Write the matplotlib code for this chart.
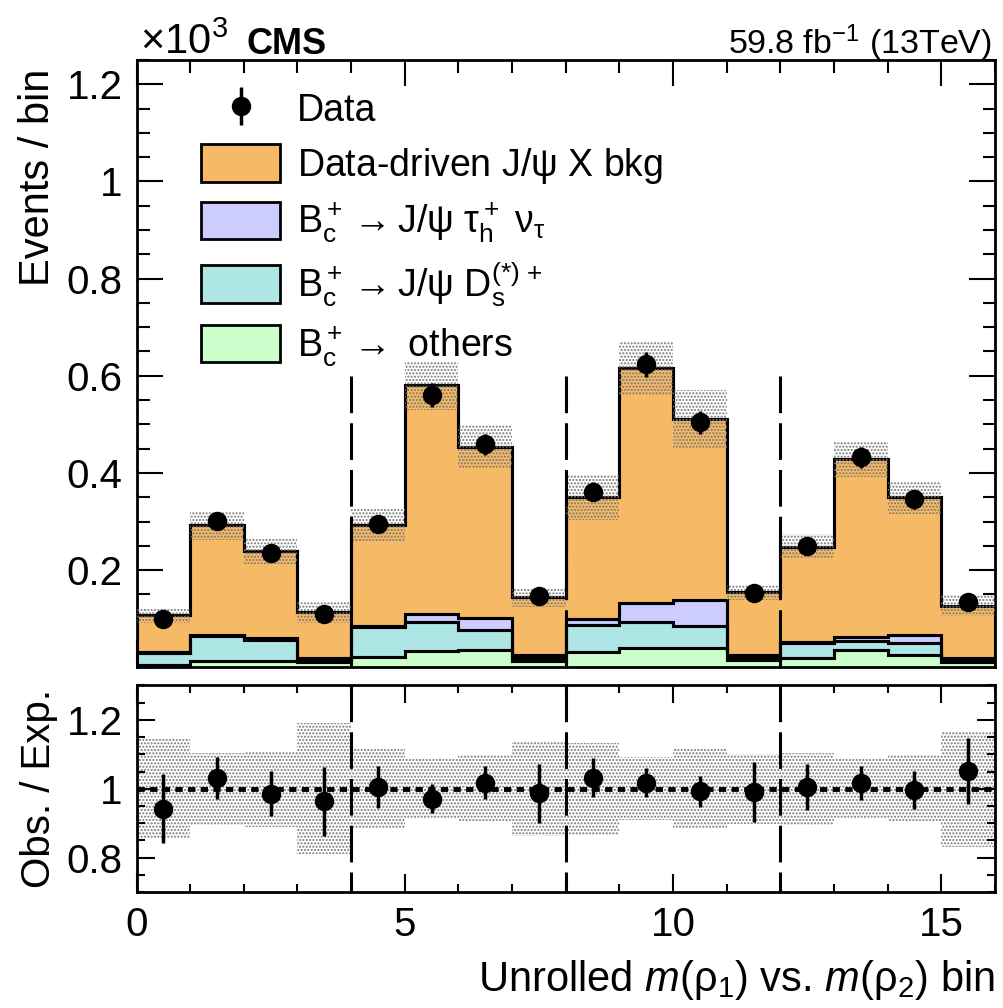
import numpy as np
import matplotlib
matplotlib.use('Agg')
import matplotlib.pyplot as plt
from matplotlib.patches import Patch
from matplotlib.ticker import MultipleLocator

plt.rcParams['font.family'] = ['Liberation Sans', 'DejaVu Sans']
plt.rcParams['mathtext.fontset'] = 'custom'
plt.rcParams['mathtext.rm'] = 'Liberation Sans'
plt.rcParams['mathtext.it'] = 'Liberation Sans:italic'
plt.rcParams['mathtext.bf'] = 'Liberation Sans:bold'
plt.rcParams['hatch.linewidth'] = 1.0

# values in units of 10^3 events per bin
edges = np.arange(0, 17)
bkg_jpsix = [0.075, 0.225, 0.180, 0.093, 0.206, 0.471, 0.352, 0.119,
             0.250, 0.484, 0.373, 0.129, 0.196, 0.366, 0.284, 0.108]
sig_tau = [0.002, 0.003, 0.004, 0.004, 0.003, 0.016, 0.025, 0.005,
           0.012, 0.039, 0.054, 0.005, 0.003, 0.007, 0.015, 0.004]
bc_ds = [0.026, 0.052, 0.043, 0.005, 0.062, 0.059, 0.042, 0.008,
         0.057, 0.053, 0.044, 0.006, 0.030, 0.020, 0.025, 0.004]
bc_others = [0.004, 0.012, 0.013, 0.011, 0.021, 0.034, 0.035, 0.012,
             0.031, 0.040, 0.040, 0.014, 0.019, 0.035, 0.026, 0.011]
data = [0.099, 0.302, 0.236, 0.110, 0.294, 0.561, 0.459, 0.146,
        0.361, 0.624, 0.504, 0.152, 0.250, 0.432, 0.346, 0.135]
# relative uncertainty of the expectation (band)
rel_unc = [0.145, 0.104, 0.110, 0.190, 0.118, 0.087, 0.097, 0.138,
           0.133, 0.091, 0.118, 0.102, 0.105, 0.085, 0.097, 0.168]
# ratio panel
ratio = [0.942, 1.032, 0.986, 0.964, 1.005, 0.971, 1.017, 0.987,
         1.032, 1.017, 0.993, 0.990, 1.005, 1.017, 0.997, 1.051]
ratio_err = [0.100, 0.061, 0.066, 0.100, 0.060, 0.042, 0.048, 0.086,
             0.056, 0.042, 0.045, 0.087, 0.067, 0.050, 0.055, 0.095]
separators = [4, 8, 12]

c_orange = '#F6B965'
c_purple = '#CCCCFF'
c_cyan = '#AEE6E6'
c_green = '#CCFFCC'

centers = edges[:-1] + 0.5
green = np.array(bc_others)
cyan = green + np.array(bc_ds)
purple = cyan + np.array(sig_tau)
total = purple + np.array(bkg_jpsix)
rel = np.array(rel_unc)

fig = plt.figure(figsize=(10.04, 10.08), dpi=100)
ax1 = fig.add_axes([0.136, 0.338, 0.855, 0.6025])
ax2 = fig.add_axes([0.136, 0.115, 0.855, 0.205])

lw = 2.2
for vals, col in [(total, c_orange), (purple, c_purple), (cyan, c_cyan), (green, c_green)]:
    ax1.stairs(vals, edges, baseline=0, fill=True, facecolor=col,
               edgecolor='black', linewidth=lw, zorder=2)
    ax1.stairs(vals, edges, baseline=None, color='black', linewidth=lw, zorder=2.1)

ax1.bar(centers, 2 * total * rel, bottom=total * (1 - rel), width=1.0,
        facecolor='none', edgecolor='#777777', hatch='.....', linewidth=0, zorder=3)

for s in separators:
    ax1.plot([s, s], [0.6, 0], color='black', lw=2.2, dashes=(12, 3.3),
             dash_capstyle='butt', zorder=3.5)
    ax2.plot([s, s], [1.3, 0.7], color='black', lw=2.2, dashes=(12, 3.3),
             dash_capstyle='butt', zorder=1.5)

data_err = np.array(ratio_err) * total
eb = ax1.errorbar(centers, data, yerr=data_err, fmt='o', color='black',
                  markersize=13, elinewidth=2.5, capsize=0, zorder=5)

ax1.set_xlim(0, 16)
ax1.set_ylim(0, 1.25)
ax1.xaxis.set_major_locator(MultipleLocator(5))
ax1.xaxis.set_minor_locator(MultipleLocator(1))
ax1.yaxis.set_minor_locator(MultipleLocator(0.05))
ax1.set_yticks([0.2, 0.4, 0.6, 0.8, 1.0, 1.2])
ax1.set_yticklabels(['0.2', '0.4', '0.6', '0.8', '1', '1.2'])
ax1.tick_params(labelbottom=False)
ax1.set_ylabel('Events / bin', fontsize=30, ha='right')
ax1.yaxis.set_label_coords(-0.092, 0.985)

handles = [eb,
           Patch(facecolor=c_orange, edgecolor='black', linewidth=2),
           Patch(facecolor=c_purple, edgecolor='black', linewidth=2),
           Patch(facecolor=c_cyan, edgecolor='black', linewidth=2),
           Patch(facecolor=c_green, edgecolor='black', linewidth=2)]
labels = ['Data',
          r'Data-driven J/$\mathregular{\psi}$ X bkg',
          r'$\mathregular{B_c^+ \rightarrow J/\psi\ \tau_h^+\ \nu_\tau}$',
          r'$\mathregular{B_c^+ \rightarrow J/\psi\ D_s^{(*)\,+}}$',
          r'$\mathregular{B_c^+ \rightarrow}$ others']
ax1.legend(handles, labels, loc='upper left', bbox_to_anchor=(0.058, 0.975),
           frameon=False, fontsize=27, handlelength=2.1, handleheight=1.15,
           labelspacing=0.4, handletextpad=0.45, borderaxespad=0)

ax2.bar(centers, 2 * rel, bottom=1 - rel, width=1.0, facecolor='none',
        edgecolor='#777777', hatch='.....', linewidth=0, zorder=1)
ax2.axhline(1, color='black', lw=3.5, linestyle=(0, (1.5, 1.1)), zorder=2)
ax2.errorbar(centers, ratio, yerr=ratio_err, fmt='o', color='black',
             markersize=13, elinewidth=2.5, capsize=0, zorder=5)
ax2.set_xlim(0, 16)
ax2.set_ylim(0.7, 1.3)
ax2.xaxis.set_major_locator(MultipleLocator(5))
ax2.xaxis.set_minor_locator(MultipleLocator(1))
ax2.set_yticks([0.8, 1.0, 1.2])
ax2.set_yticklabels(['0.8', '1', '1.2'])
ax2.yaxis.set_minor_locator(MultipleLocator(0.05))
ax2.set_ylabel('Obs. / Exp.', fontsize=29)
ax2.yaxis.set_label_coords(-0.092, 0.5)
ax2.set_xlabel(r'Unrolled $m(\mathregular{\rho_1})$ vs. $m(\mathregular{\rho_2})$ bin',
               fontsize=30, loc='right', labelpad=10)

for ax, big, small in [(ax1, 19, 9), (ax2, 13, 6)]:
    ax.tick_params(which='both', direction='in', top=True, right=True,
                   width=1.5, labelsize=29, pad=10)
    ax.tick_params(which='major', length=big)
    ax.tick_params(which='minor', length=small)
    for sp in ax.spines.values():
        sp.set_linewidth(2)

fig.text(0.139, 0.946, r'$\mathregular{\times 10^3}$', fontsize=30, ha='left', va='baseline')
fig.text(0.246, 0.946, 'CMS', fontsize=26, fontweight='bold', ha='left', va='baseline')
fig.text(0.988, 0.946, r'59.8 fb$^{\mathregular{-1}}$ (13TeV)', fontsize=24.5,
         ha='right', va='baseline')

fig.savefig('out.png', dpi=100)
